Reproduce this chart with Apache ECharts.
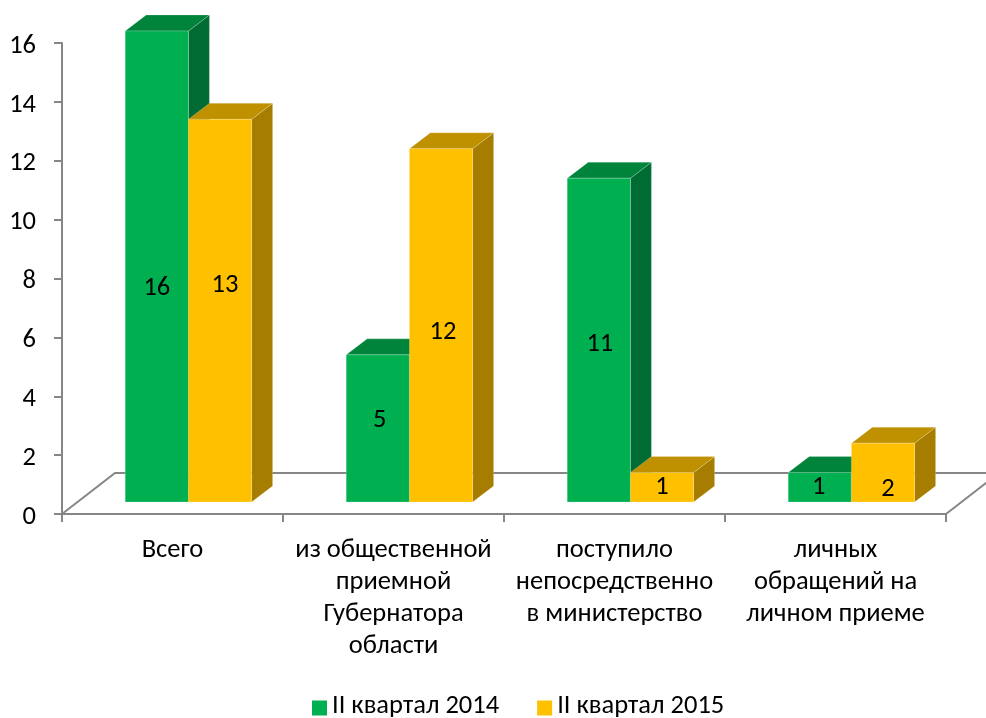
<!DOCTYPE html>
<html>
<head>
<meta charset="utf-8">
<style>
  html, body { margin: 0; padding: 0; background: #fff; }
  #chart { width: 986px; height: 718px; }
</style>
<script src="https://cdn.jsdelivr.net/npm/echarts@6/dist/echarts.min.js"></script>
</head>
<body>
<div id="chart"></div>
<script>
const categories = [
  'Всего',
  'из общественной\nприемной\nГубернатора\nобласти',
  'поступило\nнепосредственно\nв министерство',
  'личных\nобращений на\nличном приеме'
];
const seriesNames = ['II квартал 2014', 'II квартал 2015'];
const values2014 = [16, 5, 11, 1];
const values2015 = [13, 12, 1, 2];

const FONT = 'Carlito, Lato, "Open Sans", sans-serif';
const FONT_SIZE = 26.5;
const AXIS_COLOR = '#868686';

// 3d look: how far the box goes back, and how far the front plane sits above the axis
const DEPTH_X = 21;
const DEPTH_Y = 16;
const FRONT_LIFT = 12;
const FLOOR_X = 53;
const FLOOR_Y = 41;
const BAR_RATIO = 0.286;

// labels were moved by hand in the original, offsets from the middle of the front face
const nudge2014 = [[0, 22], [2, -8], [1, 4], [-1, 0]];
const nudge2015 = [[5, -25], [2, 7], [0, 0], [5, 17]];

function barRenderer(slot, colors, nudges) {
  return function (params, api) {
    const i = api.value(0);
    const v = api.value(1);
    const band = api.size([1, 0])[0];
    const w = band * BAR_RATIO;
    const center = api.coord([i, 0])[0];
    const x0 = center - band / 2 + w * (slot + 1);
    const x1 = x0 + w;
    const yBase = api.coord([i, 0])[1] - FRONT_LIFT;
    const yTop = api.coord([i, v])[1] - FRONT_LIFT;
    const edge = { stroke: 'rgba(255,255,255,0.2)', lineWidth: 1 };
    return {
      type: 'group',
      children: [
        {
          type: 'polygon',
          shape: { points: [[x1, yBase], [x1 + DEPTH_X, yBase - DEPTH_Y], [x1 + DEPTH_X, yTop - DEPTH_Y], [x1, yTop]] },
          style: Object.assign({ fill: colors.side }, edge)
        },
        {
          type: 'polygon',
          shape: { points: [[x0, yTop], [x0 + DEPTH_X, yTop - DEPTH_Y], [x1 + DEPTH_X, yTop - DEPTH_Y], [x1, yTop]] },
          style: Object.assign({ fill: colors.top }, edge)
        },
        {
          type: 'rect',
          shape: { x: x0, y: yTop, width: w, height: yBase - yTop },
          style: Object.assign({ fill: colors.front }, edge)
        },
        {
          type: 'text',
          x: (x0 + x1) / 2 + nudges[i][0],
          y: (yTop + yBase) / 2 + nudges[i][1],
          style: { text: String(v), fill: '#000', font: FONT_SIZE + 'px ' + FONT, align: 'center', verticalAlign: 'middle' }
        }
      ]
    };
  };
}

function floorRenderer(params) {
  const c = params.coordSys;
  const bottom = c.y + c.height;
  const right = c.x + c.width;
  return {
    type: 'polyline',
    shape: {
      points: [[right, bottom], [right + FLOOR_X, bottom - FLOOR_Y], [c.x + FLOOR_X, bottom - FLOOR_Y], [c.x, bottom]]
    },
    style: { fill: 'none', stroke: AXIS_COLOR, lineWidth: 2 }
  };
}

const chart = echarts.init(document.getElementById('chart'));
chart.setOption({
  animation: false,
  backgroundColor: '#fff',
  textStyle: { fontFamily: FONT },
  grid: { left: 62, right: 40, top: 43, bottom: 204 },
  legend: {
    data: seriesNames,
    left: 307,
    top: 688,
    itemWidth: 15,
    itemHeight: 15,
    itemGap: 38,
    icon: 'rect',
    formatter: '{t|{name}}',
    textStyle: {
      color: '#000',
      fontFamily: FONT,
      rich: { t: { fontSize: FONT_SIZE, fontFamily: FONT, color: '#000', padding: [0, 0, 3, 0] } }
    }
  },
  xAxis: {
    type: 'category',
    data: categories,
    axisLine: { lineStyle: { color: AXIS_COLOR, width: 2 } },
    axisTick: { show: true, length: 8, lineStyle: { color: AXIS_COLOR, width: 2 } },
    axisLabel: { interval: 0, margin: 20, fontSize: FONT_SIZE, lineHeight: 32, color: '#000' }
  },
  yAxis: {
    type: 'value',
    min: 0,
    max: 16,
    interval: 2,
    splitLine: { show: false },
    axisLine: { show: true, lineStyle: { color: AXIS_COLOR, width: 2 } },
    axisTick: { show: true, length: 8, lineStyle: { color: AXIS_COLOR, width: 2 } },
    axisLabel: {
      margin: 26,
      formatter: '{t|{value}}',
      rich: { t: { fontSize: FONT_SIZE, fontFamily: FONT, color: '#000', padding: [6, 0, 0, 0] } }
    }
  },
  series: [
    {
      name: 'floor',
      type: 'custom',
      renderItem: floorRenderer,
      clip: false,
      silent: true,
      z: 1,
      data: [[0, 0]]
    },
    {
      name: seriesNames[0],
      type: 'custom',
      z: 2,
      clip: false,
      itemStyle: { color: '#00B050' },
      renderItem: barRenderer(0, { front: '#00B050', top: '#00843C', side: '#006C33' }, nudge2014),
      encode: { x: 0, y: 1 },
      data: values2014.map((v, i) => [i, v])
    },
    {
      name: seriesNames[1],
      type: 'custom',
      z: 3,
      clip: false,
      itemStyle: { color: '#FFC000' },
      renderItem: barRenderer(1, { front: '#FFC000', top: '#BF9000', side: '#A67D00' }, nudge2015),
      encode: { x: 0, y: 1 },
      data: values2015.map((v, i) => [i, v])
    }
  ]
});
</script>
</body>
</html>
